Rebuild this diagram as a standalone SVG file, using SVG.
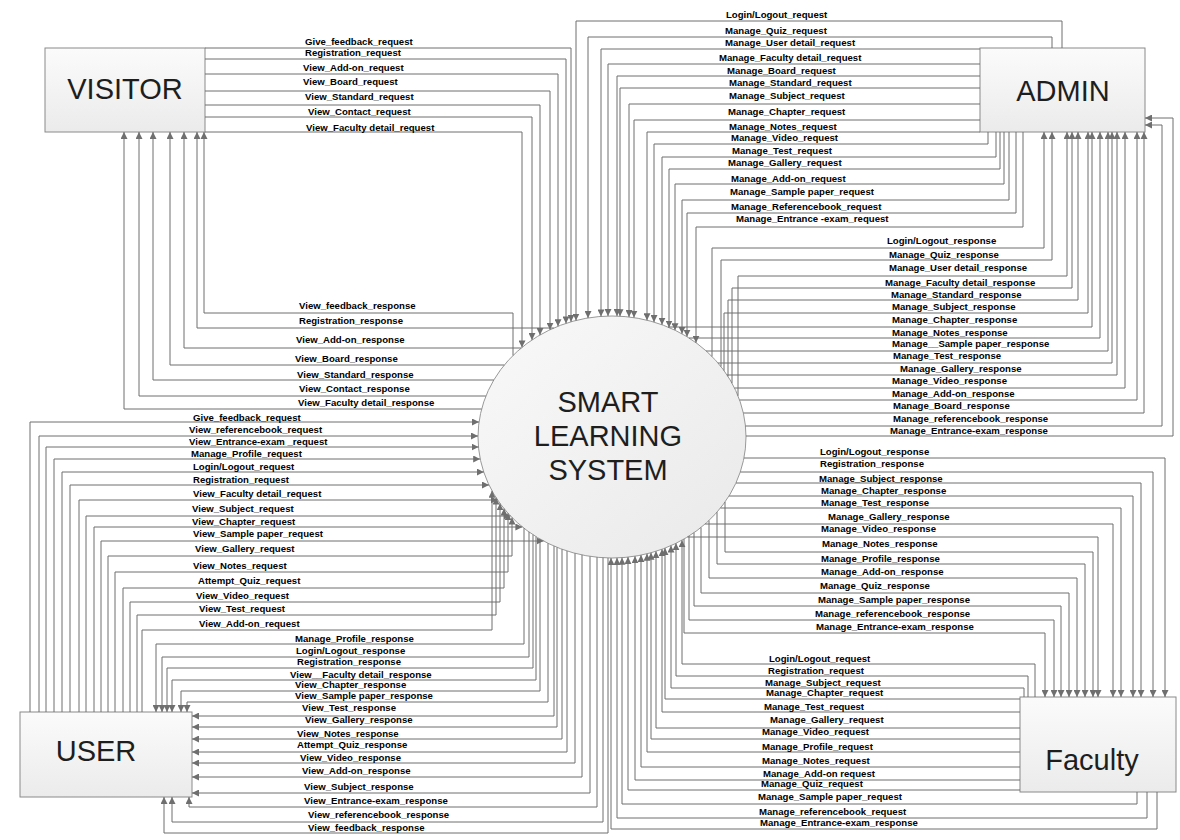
<svg xmlns="http://www.w3.org/2000/svg" width="1180" height="840" viewBox="0 0 1180 840">
<defs>
<linearGradient id="bg" x1="0" y1="0" x2="0" y2="1"><stop offset="0" stop-color="#fbfbfb"/><stop offset="1" stop-color="#ebebeb"/></linearGradient>
<linearGradient id="cg" x1="0" y1="0" x2="1" y2="1"><stop offset="0" stop-color="#f9f9f9"/><stop offset="1" stop-color="#e9e9e9"/></linearGradient>
<marker id="a" viewBox="0 0 10 10" refX="10" refY="5" markerWidth="7" markerHeight="7" markerUnits="userSpaceOnUse" orient="auto"><path d="M0,0 L10,5 L0,10 z" fill="#6f6f6f"/></marker>
<style>
.box{fill:url(#bg);stroke:#8a8a8a;stroke-width:1}
.sys{fill:url(#cg);stroke:#999;stroke-width:1}
.t{font-family:"Liberation Sans",Arial,sans-serif;font-size:29px;fill:#1e1e1e}
#connectors path{fill:none;stroke:#6f6f6f;stroke-width:1;marker-end:url(#a)}
.l{font-family:"Liberation Sans",Arial,sans-serif;font-size:9.6px;font-weight:bold;fill:#000}
</style>
</defs>
<rect width="1180" height="840" fill="#fff"/>
<g id="visitor"><rect class="box" x="45" y="48" width="160" height="84"/><text class="t" x="125" y="98.5" text-anchor="middle">VISITOR</text></g>
<g id="admin"><rect class="box" x="980" y="48" width="165" height="84"/><text class="t" x="1063" y="100.5" text-anchor="middle">ADMIN</text></g>
<g id="user"><rect class="box" x="20" y="712" width="172" height="85"/><text class="t" x="96" y="760.5" text-anchor="middle">USER</text></g>
<g id="faculty"><rect class="box" x="1020" y="697" width="156" height="95"/><text class="t" x="1092" y="770" text-anchor="middle">Faculty</text></g>
<g id="system"><ellipse class="sys" cx="612" cy="437" rx="134" ry="121"/><text class="t" x="608" y="412" text-anchor="middle">SMART</text><text class="t" x="608" y="446" text-anchor="middle">LEARNING</text><text class="t" x="608" y="480" text-anchor="middle">SYSTEM</text></g>
<g id="connectors">
<!-- visitor requests -->
<path d="M205,48 H571 V321.8"/>
<path d="M205,59 H566 V323.4"/>
<path d="M205,74 H558 V326.2"/>
<path d="M205,91 H550 V329.7"/>
<path d="M205,105 H540 V335"/>
<path d="M205,117 H532 V339.9"/>
<path d="M205,132 H522 V347.4"/>
<!-- admin requests -->
<path d="M1062,48 V21 H576 V320.5"/>
<path d="M1052,48 V37 H588 V318"/>
<path d="M980,49 H601 V316.4"/>
<path d="M980,64 H608 V316"/>
<path d="M980,76 H617 V316"/>
<path d="M980,88 H620 V316.2"/>
<path d="M980,104 H629 V317"/>
<path d="M980,120 H634 V317.6"/>
<path d="M980,132 H647 V320.2"/>
<path d="M988,132 V144 H654 V322.1"/>
<path d="M996,132 V157 H662 V324.7"/>
<path d="M1000,132 V169 H669 V327.5"/>
<path d="M1004,132 V184 H675 V330.2"/>
<path d="M1009,132 V200 H682 V333.8"/>
<path d="M1016,132 V213 H687 V336.7"/>
<path d="M1023,132 V227 H696 V342.7"/>
<!-- admin responses -->
<path d="M712,356.5 V248 H1044 V132"/>
<path d="M721,366.6 V260 H1052 V132"/>
<path d="M738,395.8 V276 H1067 V132"/>
<path d="M732,383.2 V288 H1072 V132"/>
<path d="M728,376.4 V300 H1078 V132"/>
<path d="M724,370.6 V313 H1088 V132"/>
<path d="M668,327 H1092 V132"/>
<path d="M689,338 H1100 V132"/>
<path d="M706,351 H1108 V132"/>
<path d="M718,363 H1112 V132"/>
<path d="M727,375 H1117 V132"/>
<path d="M734.5,388 H1125 V132"/>
<path d="M739.6,400 H1137 V132"/>
<path d="M743.3,413 H1144 V132"/>
<path d="M745.4,426 H1162 V125 H1145"/>
<path d="M746,436 H1173 V118 H1145"/>
<!-- visitor responses -->
<path d="M513,355.5 V313 H204 V132"/>
<path d="M553.8,328 H197 V132"/>
<path d="M521.2,348 H184 V132"/>
<path d="M504.3,365 H170 V132"/>
<path d="M493.8,380 H153 V132"/>
<path d="M485.9,396 H139 V132"/>
<path d="M481.6,409 H124 V132"/>
<!-- user requests -->
<path d="M30,712 V422 H479"/>
<path d="M39,712 V436 H478"/>
<path d="M46,712 V447 H478.5"/>
<path d="M54,712 V459 H480.2"/>
<path d="M62,712 V472 H483.8"/>
<path d="M70,712 V485 H489"/>
<path d="M79,712 V500 H497.6"/>
<path d="M86,712 V516 H510.5"/>
<path d="M94,712 V527 H522.4"/>
<path d="M101,712 V541 H543.5"/>
<path d="M108,712 V556 H512 V517.5"/>
<path d="M115,712 V572 H508 V513.3"/>
<path d="M123,712 V588 H504 V508.6"/>
<path d="M130,712 V602 H500 V503.4"/>
<path d="M137,712 V615 H496 V497.6"/>
<path d="M142,712 V630 H492 V490.8"/>
<!-- user responses -->
<path d="M524,528.2 V644 H156 V712"/>
<path d="M529,532 V657 H162 V712"/>
<path d="M533,534.7 V668 H167 V712"/>
<path d="M536,536.7 V680 H172 V712"/>
<path d="M540,539 V691 H181 V712"/>
<path d="M548,543.3 V702 H187 V712"/>
<path d="M554,546.1 V716 H192"/>
<path d="M557,547.4 V727 H192"/>
<path d="M562,549.3 V739 H192"/>
<path d="M567,551 V752 H192"/>
<path d="M575,553.3 V763 H192"/>
<path d="M582,554.9 V777 H192"/>
<path d="M590,556.4 V793 H192"/>
<path d="M597,557.2 V807 H189 V797"/>
<path d="M603,557.7 V822 H172 V797"/>
<path d="M608,558 V833 H164 V797"/>
<!-- faculty responses -->
<path d="M744,458 H1165 V697"/>
<path d="M740.3,472 H1153 V697"/>
<path d="M736,483 H1141 V697"/>
<path d="M729,496 H1133 V697"/>
<path d="M720.5,508 H1121 V697"/>
<path d="M705.1,524 H1113 V697"/>
<path d="M687.4,537 H1098 V697"/>
<path d="M725,502 V552 H1093 V697"/>
<path d="M717,512.2 V564 H1085 V697"/>
<path d="M709,520.5 V578 H1077 V697"/>
<path d="M701,527.5 V593 H1069 V697"/>
<path d="M694,532.7 V606 H1061 V697"/>
<path d="M689,536 V620 H1054 V697"/>
<path d="M684,539 V633 H1045 V697"/>
<!-- faculty requests -->
<path d="M1035,697 V664 H682 V540.2"/>
<path d="M1028,697 V676 H676 V543.3"/>
<path d="M1024,697 V688 H671 V545.6"/>
<path d="M1020,699 H665 V548.1"/>
<path d="M1020,712 H662 V549.3"/>
<path d="M1020,728 H656 V551.3"/>
<path d="M1020,739 H651 V552.7"/>
<path d="M1020,752 H647 V553.8"/>
<path d="M1020,767 H641 V555.1"/>
<path d="M1020,780 H635 V556.2"/>
<path d="M1020,790 H628 V557.1"/>
<path d="M1137,792 V804 H622 V557.7"/>
<path d="M1147,792 V818 H617 V557.9"/>
<path d="M1157,792 V829 H611 V558"/>
<g id="labels">
<text class="l" x="305" y="45">Give_feedback_request</text>
<text class="l" x="305" y="56">Registration_request</text>
<text class="l" x="303" y="71">View_Add-on_request</text>
<text class="l" x="303" y="85">View_Board_request</text>
<text class="l" x="305" y="100">View_Standard_request</text>
<text class="l" x="308" y="115">View_Contact_request</text>
<text class="l" x="306" y="130.5">View_Faculty detail_request</text>
<text class="l" x="726" y="18">Login/Logout_request</text>
<text class="l" x="725" y="34">Manage_Quiz_request</text>
<text class="l" x="725" y="46">Manage_User detail_request</text>
<text class="l" x="719" y="61">Manage_Faculty detail_request</text>
<text class="l" x="727" y="74">Manage_Board_request</text>
<text class="l" x="729" y="86">Manage_Standard_request</text>
<text class="l" x="729" y="99">Manage_Subject_request</text>
<text class="l" x="728" y="115">Manage_Chapter_request</text>
<text class="l" x="729" y="130">Manage_Notes_request</text>
<text class="l" x="731" y="141">Manage_Video_request</text>
<text class="l" x="732" y="154">Manage_Test_request</text>
<text class="l" x="728" y="166">Manage_Gallery_request</text>
<text class="l" x="731" y="182">Manage_Add-on_request</text>
<text class="l" x="730" y="195">Manage_Sample paper_request</text>
<text class="l" x="731" y="210">Manage_Referencebook_request</text>
<text class="l" x="736" y="222">Manage_Entrance -exam_request</text>
<text class="l" x="887" y="244">Login/Logout_response</text>
<text class="l" x="889" y="258">Manage_Quiz_response</text>
<text class="l" x="889" y="271">Manage_User detail_response</text>
<text class="l" x="885" y="286">Manage_Faculty detail_response</text>
<text class="l" x="891" y="298">Manage_Standard_response</text>
<text class="l" x="892" y="310">Manage_Subject_response</text>
<text class="l" x="892" y="323">Manage_Chapter_response</text>
<text class="l" x="892" y="336">Manage_Notes_response</text>
<text class="l" x="892" y="347">Manage__Sample paper_response</text>
<text class="l" x="893" y="359">Manage_Test_response</text>
<text class="l" x="900" y="372">Manage_Gallery_response</text>
<text class="l" x="892" y="384">Manage_Video_response</text>
<text class="l" x="892" y="397">Manage_Add-on_response</text>
<text class="l" x="893" y="409">Manage_Board_response</text>
<text class="l" x="893" y="422">Manage_referencebook_response</text>
<text class="l" x="890" y="434">Manage_Entrance-exam_response</text>
<text class="l" x="299" y="309">View_feedback_response</text>
<text class="l" x="299" y="324">Registration_response</text>
<text class="l" x="296" y="343">View_Add-on_response</text>
<text class="l" x="295" y="362">View_Board_response</text>
<text class="l" x="297" y="378">View_Standard_response</text>
<text class="l" x="299" y="392">View_Contact_response</text>
<text class="l" x="298" y="406">View_Faculty detail_response</text>
<text class="l" x="193" y="421">Give_feedback_request</text>
<text class="l" x="189" y="433">View_referencebook_request</text>
<text class="l" x="189" y="445">View_Entrance-exam _request</text>
<text class="l" x="191" y="457">Manage_Profile_request</text>
<text class="l" x="193" y="470">Login/Logout_request</text>
<text class="l" x="193" y="483">Registration_request</text>
<text class="l" x="193" y="497">View_Faculty detail_request</text>
<text class="l" x="192" y="512">View_Subject_request</text>
<text class="l" x="192" y="525">View_Chapter_request</text>
<text class="l" x="193" y="537">View_Sample paper_request</text>
<text class="l" x="195" y="552">View_Gallery_request</text>
<text class="l" x="193" y="569">View_Notes_request</text>
<text class="l" x="198" y="584">Attempt_Quiz_request</text>
<text class="l" x="196" y="599">View_Video_request</text>
<text class="l" x="199" y="612">View_Test_request</text>
<text class="l" x="199" y="627">View_Add-on_request</text>
<text class="l" x="295" y="642">Manage_Profile_response</text>
<text class="l" x="296" y="654">Login/Logout_response</text>
<text class="l" x="297" y="665">Registration_response</text>
<text class="l" x="290" y="678">View__Faculty detail_response</text>
<text class="l" x="295" y="688">View_Chapter_response</text>
<text class="l" x="295" y="699">View_Sample paper_response</text>
<text class="l" x="302" y="711">View_Test_response</text>
<text class="l" x="305" y="723">View_Gallery_response</text>
<text class="l" x="297" y="737">View_Notes_response</text>
<text class="l" x="297" y="748">Attempt_Quiz_response</text>
<text class="l" x="300" y="761">View_Video_response</text>
<text class="l" x="302" y="774">View_Add-on_response</text>
<text class="l" x="304" y="790">View_Subject_response</text>
<text class="l" x="304" y="804">View_Entrance-exam_response</text>
<text class="l" x="308" y="818">View_referencebook_response</text>
<text class="l" x="308" y="831">View_feedback_response</text>
<text class="l" x="820" y="455">Login/Logout_response</text>
<text class="l" x="820" y="467">Registration_response</text>
<text class="l" x="819" y="482">Manage_Subject_response</text>
<text class="l" x="821" y="494">Manage_Chapter_response</text>
<text class="l" x="821" y="506">Manage_Test_response</text>
<text class="l" x="828" y="520">Manage_Gallery_response</text>
<text class="l" x="821" y="532">Manage_Video_response</text>
<text class="l" x="822" y="547">Manage_Notes_response</text>
<text class="l" x="821" y="562">Manage_Profile_response</text>
<text class="l" x="821" y="575">Manage_Add-on_response</text>
<text class="l" x="820" y="589">Manage_Quiz_response</text>
<text class="l" x="818" y="603">Manage_Sample paper_response</text>
<text class="l" x="815" y="617">Manage_referencebook_response</text>
<text class="l" x="816" y="630">Manage_Entrance-exam_response</text>
<text class="l" x="769" y="662">Login/Logout_request</text>
<text class="l" x="768" y="674">Registration_request</text>
<text class="l" x="765" y="686">Manage_Subject_request</text>
<text class="l" x="766" y="696">Manage_Chapter_request</text>
<text class="l" x="764" y="710">Manage_Test_request</text>
<text class="l" x="770" y="723">Manage_Gallery_request</text>
<text class="l" x="762" y="735">Manage_Video_request</text>
<text class="l" x="762" y="750">Manage_Profile_request</text>
<text class="l" x="762" y="764">Manage_Notes_request</text>
<text class="l" x="763" y="777">Manage_Add-on request</text>
<text class="l" x="761" y="787">Manage_Quiz_request</text>
<text class="l" x="758" y="800">Manage_Sample paper_request</text>
<text class="l" x="759" y="815">Manage_referencebook_request</text>
<text class="l" x="760" y="826">Manage_Entrance-exam_response</text>
</g>
</g>
</svg>
